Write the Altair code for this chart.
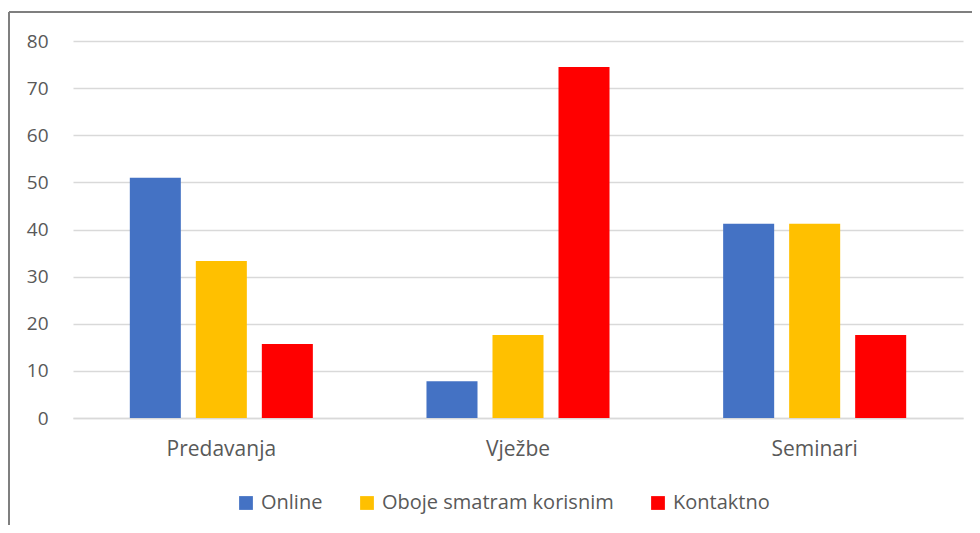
import altair as alt
import pandas as pd

categories = ["Predavanja", "Vježbe", "Seminari"]
series = ["Online", "Oboje smatram korisnim", "Kontaktno"]
online = [51.0, 7.8, 41.2]
oboje = [33.3, 17.6, 41.2]
kontaktno = [15.7, 74.5, 17.6]
colors = ["#4472C4", "#FFC000", "#FF0000"]

rows = []
for vals, s in zip([online, oboje, kontaktno], series):
    for c, v in zip(categories, vals):
        rows.append({"kategorija": c, "serija": s, "vrijednost": v})
df = pd.DataFrame(rows)

FONT = "Open Sans"
TXT = "#595959"

bars = alt.Chart(df).mark_bar().encode(
    x=alt.X("kategorija:N", sort=categories, title=None,
            scale=alt.Scale(paddingInner=0.383, paddingOuter=0.1915),
            axis=alt.Axis(labelAngle=0, ticks=False, domain=True, domainColor="#D9D9D9",
                          domainWidth=1.5, labelPadding=20, labelFontSize=21,
                          labelColor=TXT, labelFont=FONT, labelLimit=0)),
    xOffset=alt.XOffset("serija:N", sort=series,
                        scale=alt.Scale(paddingInner=0.227, paddingOuter=0)),
    y=alt.Y("vrijednost:Q", title=None,
            scale=alt.Scale(domain=[0, 80]),
            axis=alt.Axis(values=list(range(0, 90, 10)), ticks=False, domain=False,
                          gridColor="#D9D9D9", gridWidth=1.5, labelPadding=25,
                          labelFontSize=19, labelColor=TXT, labelFont=FONT)),
    color=alt.Color("serija:N", sort=series,
                    scale=alt.Scale(domain=series, range=colors),
                    legend=alt.Legend(title=None, orient="none", direction="horizontal",
                                      legendX=163, legendY=452,
                                      symbolType="square", symbolSize=190,
                                      symbolStrokeWidth=0, symbolOpacity=1,
                                      labelFontSize=20, labelColor=TXT, labelFont=FONT,
                                      labelLimit=0, columnPadding=34, labelOffset=5)),
)

border_left = alt.Chart(df).mark_rule(color="#7F7F7F", strokeWidth=1.5).encode(
    x=alt.value(-64), y=alt.value(-29), y2=alt.value(600))
border_top = alt.Chart(df).mark_rule(color="#7F7F7F", strokeWidth=1.5).encode(
    x=alt.value(-64), x2=alt.value(1000), y=alt.value(-29))

chart = alt.layer(bars, border_left, border_top).properties(
    width=890, height=377,
    autosize=alt.AutoSizeParams(type="none"),
    padding={"left": 65, "top": 33, "right": 9, "bottom": 107},
    background="white",
).configure_view(stroke=None)

chart.save("out.html", embed_options={"renderer": "svg", "actions": False})
